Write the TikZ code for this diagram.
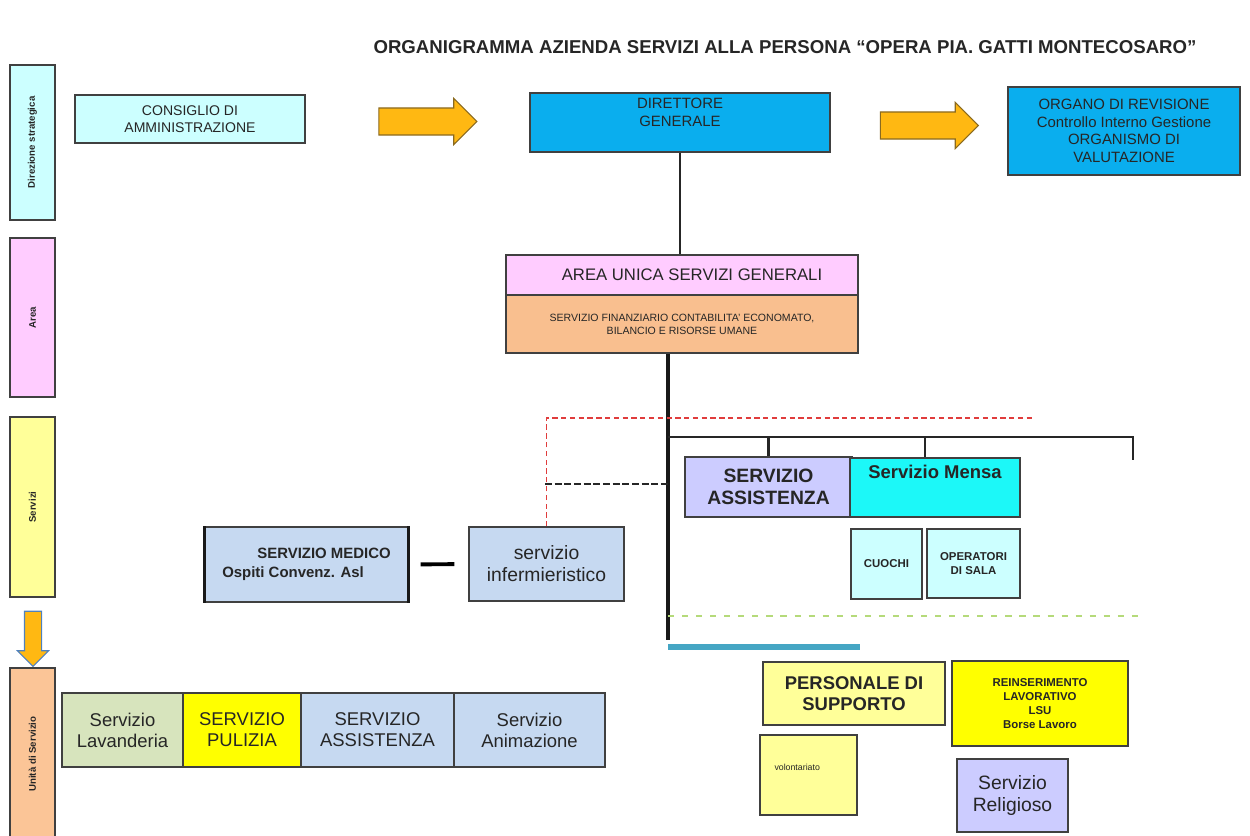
\documentclass[tikz,border=0pt]{standalone}
\usepackage{fontspec}
\setmainfont{Liberation Sans}
\usepackage{tikz}
\usetikzlibrary{shapes, shapes.arrows, positioning, calc}
\definecolor{txt}{HTML}{262626}
\definecolor{boxedge}{HTML}{404040}
\definecolor{cyanlt}{HTML}{CCFFFF}
\definecolor{pinklt}{HTML}{FFCCFF}
\definecolor{yellowlt}{HTML}{FFFF99}
\definecolor{yellowfull}{HTML}{FFFF00}
\definecolor{orangelt}{HTML}{FBC597}
\definecolor{orangefin}{HTML}{F9BF8F}
\definecolor{skyblue}{HTML}{0AAEEE}
\definecolor{cyanfull}{HTML}{1CF8F8}
\definecolor{lavender}{HTML}{CCCCFF}
\definecolor{bluelt}{HTML}{C6D9F1}
\definecolor{greenlt}{HTML}{D7E4BD}
\definecolor{arrorange}{HTML}{FFB812}
\definecolor{arrowedge}{HTML}{8A6A20}
\definecolor{steel}{HTML}{4F81BD}
\definecolor{barblue}{HTML}{45A6C4}
\definecolor{dashgreen}{HTML}{B5DA7A}
\definecolor{dashred}{HTML}{E03C3C}
\newcommand{\fsz}[2]{\fontsize{#1}{#2}\selectfont}
\tikzstyle{box} = [draw=boxedge, line width=0.7pt, align=center, inner sep=1pt, text=txt]
\tikzstyle{side} = [box, rotate=90, font=\bfseries\fsz{5.5}{6.5}]
\tikzstyle{inner} = [align=center, inner sep=1pt, text=txt]
\tikzstyle{bigarrow} = [single arrow, draw=arrowedge, fill=arrorange, line width=0.6pt, single arrow head extend=0.19cm, single arrow head indent=0pt, inner sep=0.26cm, minimum height=1.96cm]
\tikzstyle{link} = [line width=1.2pt, draw=black!85]
\tikzstyle{trunk} = [line width=1.8pt, draw=black!90]
\tikzset{sz/.style 2 args={minimum width=#1*0.02cm, minimum height=#2*0.02cm}}

\begin{document}
\begin{tikzpicture}[x=0.02cm, y=-0.02cm]
    \useasboundingbox (0,0) rectangle (1250,835);
    \node[font=\bfseries\fsz{10.6}{12}, text=txt] (title) at (785,47) {ORGANIGRAMMA AZIENDA SERVIZI ALLA PERSONA “OPERA PIA. GATTI MONTECOSARO”};

    \node[side, sz={155}{45}, fill=cyanlt] (dirstrat) at (32.5,142.5) {Direzione strategica};
    \node[side, sz={159}{45}, fill=pinklt] (arealbl) at (32.5,317.5) {Area};
    \node[side, sz={180}{45}, fill=yellowlt] (servlbl) at (32.5,507) {Servizi};
    \node[side, sz={172}{45}, fill=orangelt] (unitlbl) at (32.5,754) {Unità di Servizio};
    \node[bigarrow, rotate=-90, draw=steel, minimum height=55*0.02cm, inner sep=8*0.02cm, single arrow head extend=7*0.02cm] (down) at (33,634.5) {};

    \node[box, sz={230}{48}, fill=cyanlt, font=\fsz{8}{9.5}] (cda) at (190,119) {CONSIGLIO DI\\AMMINISTRAZIONE};
    \node[bigarrow] (arr1) at (421,121.5) {};
    \node[box, sz={300}{59}, fill=skyblue, label={[inner, anchor=north, yshift=-0.08cm, font=\fsz{8.5}{10}]north:{DIRETTORE\\GENERALE}}] (dg) at (680,122.5) {};
    \node[bigarrow] (arr2) at (922.5,125.5) {};
    \node[box, sz={232}{88}, fill=skyblue, font=\fsz{8.5}{10}] (org) at (1124,131) {ORGANO DI REVISIONE\\Controllo Interno Gestione\\ORGANISMO DI\\VALUTAZIONE};

    \node[box, sz={352}{40}, fill=pinklt, font=\fsz{9.5}{11}] (area) at (682,275) {\hspace{0.4cm}AREA UNICA SERVIZI GENERALI};
    \node[box, sz={352}{58}, fill=orangefin, font=\fsz{6}{7.5}] (fin) at (682,324) {SERVIZIO FINANZIARIO CONTABILITA' ECONOMATO,\\BILANCIO E RISORSE UMANE};

    \node[box, sz={167}{60}, fill=lavender, font=\bfseries\fsz{11}{12.5}] (ass) at (768.5,487) {SERVIZIO\\ASSISTENZA};
    \node[box, sz={170}{59}, fill=cyanfull, label={[inner, anchor=north, yshift=-0.12cm, font=\bfseries\fsz{10.5}{12}]north:{Servizio Mensa}}] (mensa) at (935,487.5) {};
    \node[box, sz={71}{70}, fill=cyanlt, font=\bfseries\fsz{6.5}{8}] (cuochi) at (886.5,564) {CUOCHI};
    \node[box, sz={93}{69}, fill=cyanlt, font=\bfseries\fsz{6.5}{8}] (opsala) at (973.5,563.5) {OPERATORI\\DI SALA};

    \node[box, sz={203}{75}, fill=bluelt, align=left, font=\bfseries\fsz{8.5}{10.5}] (medico) at (306.5,564.5) {\hspace{20pt}SERVIZIO MEDICO\\Ospiti Convenz. Asl};
    \draw[line width=1.8pt, draw=black!90] (medico.north west) -- (medico.south west) (medico.north east) -- (medico.south east);
    \node[box, sz={155}{74}, fill=bluelt, font=\fsz{11}{12.5}] (inf) at (546.5,564) {servizio\\infermieristico};

    \node[box, sz={182}{63}, fill=yellowlt, font=\bfseries\fsz{10.5}{12}] (pers) at (854,693.5) {PERSONALE DI\\SUPPORTO};
    \node[box, sz={176}{85}, fill=yellowfull, font=\bfseries\fsz{6.5}{8}] (reins) at (1040,703.5) {REINSERIMENTO\\LAVORATIVO\\LSU\\Borse Lavoro};
    \node[box, sz={97}{80}, fill=yellowlt, label={[inner, anchor=west, xshift=0.26cm, yshift=0.16cm, font=\fsz{5}{6}]west:volontariato}] (vol) at (808.5,775) {};
    \node[box, sz={111}{73}, fill=lavender, font=\fsz{11}{12.5}] (relig) at (1012.5,795.5) {Servizio\\Religioso};

    \node[box, sz={121}{74}, fill=greenlt, font=\fsz{10.5}{12}] (lav) at (122.5,730) {Servizio\\Lavanderia};
    \node[box, sz={118}{74}, fill=yellowfull, font=\fsz{10.5}{12}] (pul) at (242,730) {SERVIZIO\\PULIZIA};
    \node[box, sz={153}{74}, fill=bluelt, font=\fsz{10.5}{12}] (assb) at (377.5,730) {SERVIZIO\\ASSISTENZA};
    \node[box, sz={151}{74}, fill=bluelt, font=\fsz{10.5}{12}] (anim) at (529.5,730) {Servizio\\Animazione};

    \coordinate (bar) at (668,437);
    \coordinate (trunkend) at (668,640);
    \coordinate (barend) at (1133,460);
    \coordinate (mdrop) at (925,437);
    \coordinate (redend) at (1035,418);
    \coordinate (bdash) at (545,484);
    \coordinate (gdash) at (1140,616);
    \coordinate (blueend) at (860,647);

    \draw[link] (dg.south) -- (dg.south |- area.north);
    \draw[trunk] (trunkend |- fin.south) -- (trunkend);
    \draw[link] (bar) -- (bar -| barend) -- (barend);
    \draw[link] (ass.north |- bar) -- (ass.north);
    \draw[link] (mdrop) -- (mdrop |- mensa.north);
    \draw[dashred, line width=1pt, dash pattern=on 3pt off 2pt] (inf.north) -- (inf.north |- redend) -- (redend);
    \draw[black!85, line width=1.4pt, dash pattern=on 4pt off 1.5pt] (bdash) -- (bdash -| bar);
    \draw[dashgreen, line width=1.2pt, dash pattern=on 3.5pt off 4.5pt] (gdash -| trunkend) -- (gdash);
    \draw[barblue, line width=3pt] (blueend -| trunkend) -- (blueend);
    \draw[line width=2.2pt, shorten <=12*0.02cm, shorten >=14*0.02cm] (medico.east) -- (inf.west);
\end{tikzpicture}
\end{document}
